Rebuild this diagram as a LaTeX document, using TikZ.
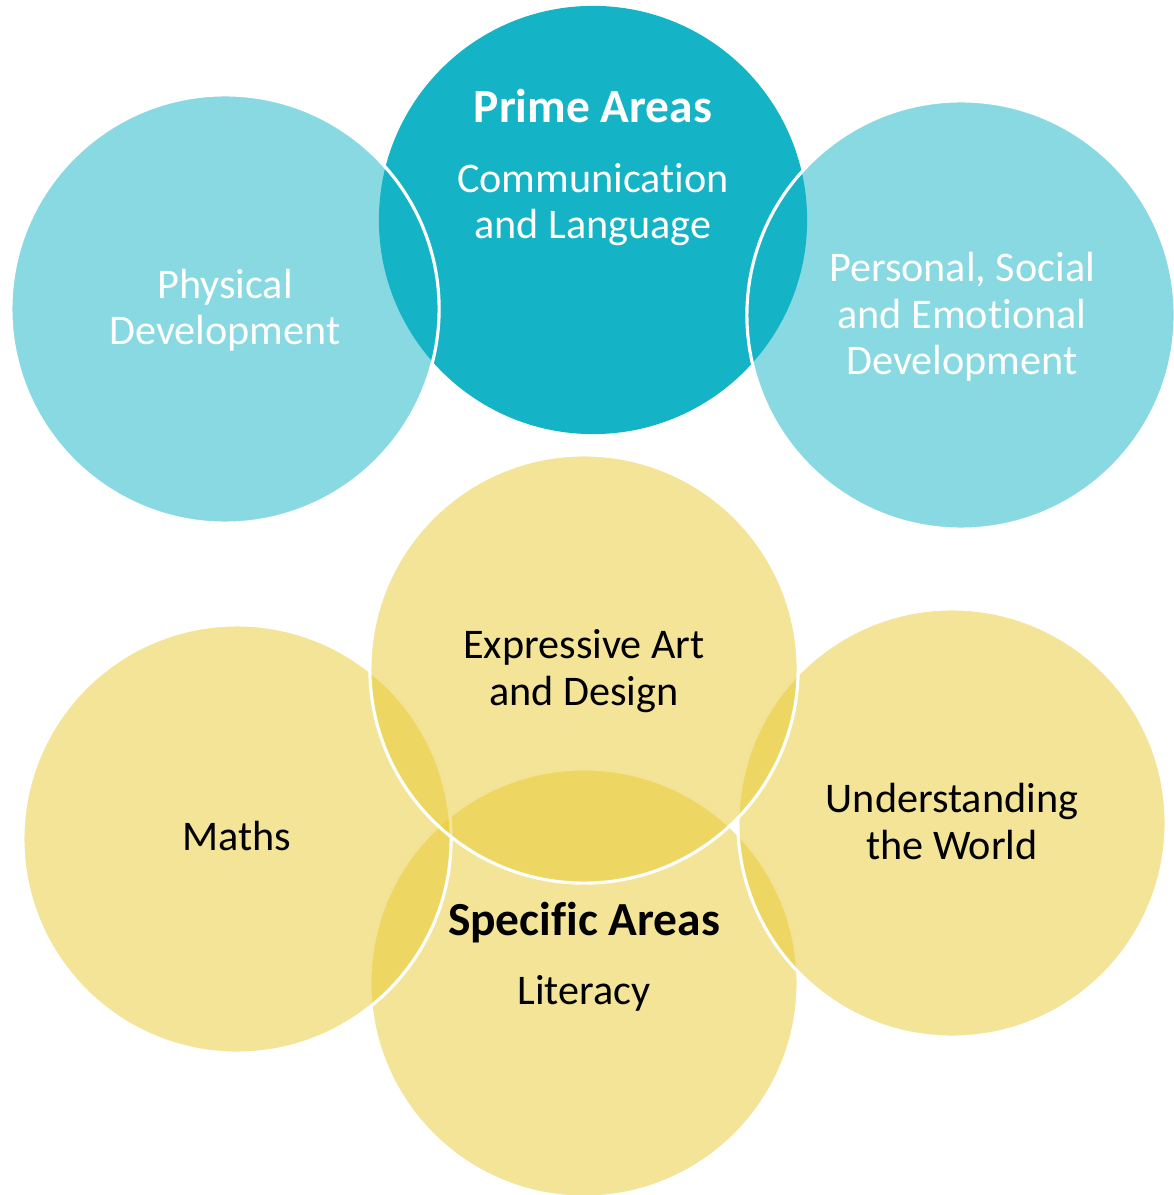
\documentclass[tikz,border=0pt]{standalone}
\usepackage{fontspec}
\setmainfont{Carlito}[Ligatures=NoCommon]
\definecolor{primeteal}{HTML}{14B4C6}
\definecolor{paleteal}{HTML}{88D9E1}
\definecolor{specgold}{HTML}{E8C92F}

\begin{document}
\begin{tikzpicture}[x=0.01cm, y=-0.01cm,
    ball/.style={shape=circle, inner sep=0, minimum size=4.28cm},
    ring/.style={ball, draw=white, line width=0.9pt},
    goldball/.style={ball, fill=specgold, fill opacity=0.5, draw=white, line width=0.9pt},
    areatext/.style={anchor=base, align=center, inner sep=0,
        font=\fontsize{12}{13.3}\selectfont},
    headtext/.style={anchor=base, inner sep=0,
        font=\fontsize{13.5}{15}\selectfont\bfseries}]

    \useasboundingbox (0, 0) rectangle (1173, 1195);

    % Prime areas
    \node[ball, fill=paleteal] (physical) at (225, 309) {};
    \node[ball, fill=paleteal] (personal) at (961, 315) {};
    \node[ball, fill=primeteal] (prime) at (593, 220) {};
    \node[ring] (physicalring) at (physical) {};
    \node[ring] (personalring) at (personal) {};

    % Specific areas
    \node[goldball] (literacy) at (584, 983) {};
    \node[goldball] (maths) at (237, 839) {};
    \node[goldball] (world) at (952, 823) {};
    \node[goldball] (expressive) at (584, 669) {};

    % Texts (base = last line)
    \node[headtext, text=white] (primehead) at (593, 123) {Prime Areas};
    \node[areatext, text=white] (primetext) at (593, 239)
        {Communication\\and Language};
    \node[areatext, text=white] (physicaltext) at (225, 345)
        {Physical\\Development};
    \node[areatext, text=white] (personaltext) at (962, 375)
        {Personal, Social\\and Emotional\\Development};
    \node[areatext] (expressivetext) at (584, 705)
        {Expressive Art\\and Design};
    \node[areatext] (mathstext) at (237, 850) {Maths};
    \node[areatext] (worldtext) at (952, 859)
        {Understanding\\the World};
    \node[headtext] (spechead) at (584, 935) {Specific Areas};
    \node[areatext] (literacytext) at (584, 1004) {Literacy};

\end{tikzpicture}
\end{document}
